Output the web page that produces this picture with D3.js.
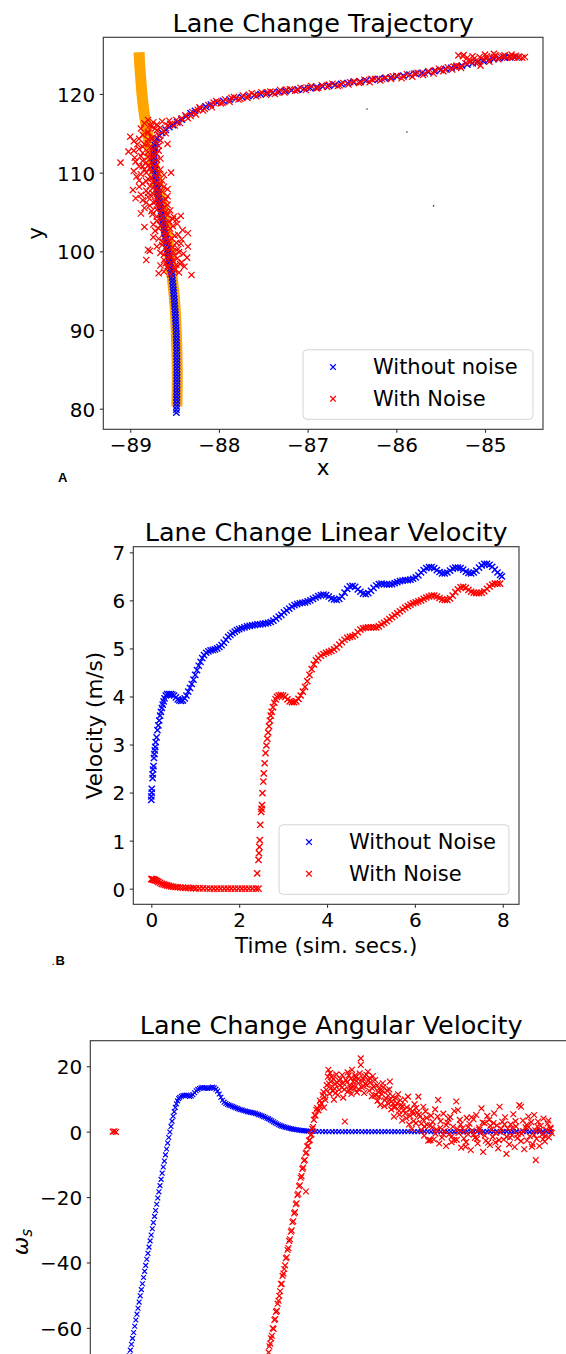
<!DOCTYPE html>
<html>
<head>
<meta charset="utf-8">
<script src="https://cdn.jsdelivr.net/npm/d3@7"></script>
<style>
  body { margin: 0; background: #fff; }
  svg text { font-family: "DejaVu Sans", sans-serif; fill: #000; }
</style>
</head>
<body>
<svg id="fig" width="566" height="1354"></svg>
<script>
// ---- tick values
var trajXTicks = [-89, -88, -87, -86, -85];
var trajYTicks = [80, 90, 100, 110, 120];
var timeTicks = [0, 2, 4, 6, 8];
var velTicks = [0, 1, 2, 3, 4, 5, 6, 7];
var angTicks = [-60, -40, -20, 0, 20];

// ---- panel A: reference lane path (x, y)
var refPath = [[-88.90,125.3],[-88.895,124],[-88.882,122],[-88.868,120],[-88.848,118],[-88.822,116],
  [-88.792,114],[-88.758,112],[-88.72,110],[-88.682,108],[-88.646,106],[-88.612,104],[-88.582,102],
  [-88.56,100],[-88.54,98],[-88.52,96],[-88.502,94],[-88.49,92],[-88.482,90],[-88.476,88],
  [-88.472,86],[-88.47,84],[-88.472,82],[-88.475,80.3]];

// panel A: trajectory without noise (x, y)
var trajClean = [[-88.48,79.5],[-88.48,79.9],[-88.477,80.3],[-88.477,80.7],[-88.476,81.1],[-88.476,81.5],
  [-88.475,81.9],[-88.475,82.3],[-88.475,82.7],[-88.474,83.1],[-88.474,83.5],[-88.474,83.9],[-88.474,84.3],
  [-88.474,84.7],[-88.474,85.1],[-88.474,85.5],[-88.474,85.9],[-88.475,86.3],[-88.475,86.7],[-88.476,87.1],
  [-88.476,87.5],[-88.477,87.9],[-88.478,88.3],[-88.479,88.7],[-88.48,89.1],[-88.481,89.5],[-88.482,89.9],
  [-88.484,90.3],[-88.486,90.7],[-88.488,91.1],[-88.49,91.5],[-88.492,91.9],[-88.494,92.3],[-88.497,92.7],
  [-88.5,93.1],[-88.502,93.5],[-88.505,93.9],[-88.508,94.3],[-88.511,94.7],[-88.514,95.1],[-88.517,95.5],
  [-88.52,95.9],[-88.524,96.3],[-88.528,96.7],[-88.532,97.1],[-88.538,97.5],[-88.545,97.9],[-88.55,98.3],
  [-88.556,98.7],[-88.562,99.1],[-88.568,99.5],[-88.574,99.9],[-88.58,100.3],[-88.586,100.7],[-88.592,101.1],
  [-88.598,101.5],[-88.604,101.9],[-88.61,102.3],[-88.616,102.7],[-88.622,103.1],[-88.628,103.5],
  [-88.634,103.9],[-88.64,104.3],[-88.646,104.7],[-88.652,105.1],[-88.658,105.5],[-88.664,105.9],
  [-88.67,106.3],[-88.676,106.7],[-88.682,107.1],[-88.688,107.5],[-88.694,107.9],[-88.7,108.3],
  [-88.705,108.7],[-88.71,109.1],[-88.715,109.5],[-88.72,109.9],[-88.724,110.3],[-88.728,110.7],
  [-88.731,111.1],[-88.733,111.5],[-88.734,111.9],[-88.734,112.3],[-88.732,112.7],[-88.728,113.1],
  [-88.722,113.5],[-88.712,113.9],[-88.70,114.3],[-88.67,114.7],[-88.64,115.05],[-88.60,115.45],
  [-88.56,115.8],[-88.52,116.05],[-88.47,116.4],[-88.42,116.75],[-88.37,117.15],[-88.32,117.55],
  [-88.27,117.85],[-88.21,118.15],[-88.15,118.4],[-88.09,118.65],[-88.02,118.9],[-87.95,119.1],
  [-87.88,119.28],[-87.81,119.44],[-87.74,119.6],[-87.67,119.73],[-87.6,119.85],[-87.53,119.96],
  [-87.46,120.07],[-87.39,120.18],[-87.32,120.28],[-87.25,120.38],[-87.18,120.48],[-87.11,120.57],
  [-87.04,120.66],[-86.97,120.75],[-86.9,120.85],[-86.83,120.95],[-86.76,121.05],[-86.69,121.15],
  [-86.62,121.26],[-86.55,121.37],[-86.48,121.48],[-86.41,121.59],[-86.34,121.69],[-86.27,121.8],
  [-86.2,121.9],[-86.13,122.0],[-86.06,122.1],[-85.99,122.22],[-85.92,122.33],[-85.85,122.45],
  [-85.78,122.56],[-85.71,122.67],[-85.64,122.79],[-85.57,122.91],[-85.5,123.04],[-85.44,123.18],
  [-85.38,123.32],[-85.32,123.46],[-85.26,123.6],[-85.2,123.74],[-85.14,123.9],[-85.08,124.04],
  [-85.02,124.18],[-84.96,124.32],[-84.9,124.45],[-84.84,124.55],[-84.78,124.62],[-84.72,124.68],
  [-84.66,124.7]];

// panel A: trajectory with noise (x, y)
var trajNoisy = [[-88.68,97.2],[-88.62,97.4],[-88.55,97.1],[-88.5,97.6],[-88.45,97.3],[-88.39,98.06],
  [-88.31,97.0],[-88.58,97.9],[-88.48,98.3],[-88.6,98.5],[-88.52,98.8],[-88.42,98.6],[-88.82,98.9],
  [-88.66,98.2],[-88.36,99.2],[-88.56,99.3],[-88.62,99.6],[-88.5,99.5],[-88.45,99.9],[-88.58,100.1],
  [-88.8,100.2],[-88.78,100.05],[-88.35,100.6],[-88.52,100.5],[-88.64,100.8],[-88.48,101.1],[-88.57,101.3],
  [-88.68,101.6],[-88.42,101.5],[-88.6,101.9],[-88.5,102.0],[-88.35,102.3],[-88.41,102.7],[-88.62,102.4],
  [-88.72,102.6],[-88.84,103.1],[-88.55,102.9],[-88.66,103.3],[-88.6,103.6],[-88.47,103.5],[-88.7,103.9],
  [-88.52,104.1],[-88.43,104.5],[-88.51,104.4],[-88.64,104.3],[-88.88,104.8],[-88.75,104.7],[-88.6,105.0],
  [-88.7,105.3],[-88.62,105.6],[-88.78,105.8],[-88.66,106.0],[-88.86,106.5],[-88.72,106.3],[-88.6,106.6],
  [-88.8,106.9],[-88.94,106.75],[-88.68,107.1],[-88.75,107.4],[-88.64,107.6],[-88.97,107.8],[-88.82,107.7],
  [-88.7,108.0],[-88.58,107.9],[-88.78,108.3],[-88.66,108.5],[-88.86,108.6],[-88.74,108.9],[-88.93,109.5],
  [-88.8,109.2],[-88.7,109.4],[-88.88,109.8],[-88.62,109.7],[-88.76,110.1],[-88.54,110.0],[-88.84,110.4],
  [-88.72,110.6],[-88.9,110.8],[-88.8,110.9],[-89.11,111.27],[-88.76,111.2],[-88.86,111.5],[-88.7,111.6],
  [-88.95,111.9],[-88.8,112.0],[-89.02,112.67],[-88.74,112.3],[-88.86,112.5],[-88.68,112.8],[-88.9,113.0],
  [-88.78,113.2],[-88.58,113.65],[-88.84,113.6],[-88.72,113.8],[-88.96,114.0],[-88.8,114.2],[-89.0,114.57],
  [-88.74,114.5],[-88.86,114.8],[-88.6,115.0],[-88.8,115.2],[-88.7,115.4],[-88.88,115.6],[-88.76,115.9],
  [-88.84,116.27],[-88.8,116.7],[-88.66,115.7],[-88.58,116.0],
  [-88.5,97.8],[-88.58,98.1],[-88.44,98.4],[-88.54,98.6],[-88.62,98.9],[-88.47,99.1],[-88.55,99.4],
  [-88.66,99.8],[-88.4,99.7],[-88.52,100.0],[-88.6,100.4],[-88.46,100.3],[-88.7,100.6],[-88.56,100.9],
  [-88.43,101.0],[-88.63,101.2],[-88.53,101.6],[-88.74,101.8],[-88.58,102.2],[-88.46,102.1],[-88.68,102.9],
  [-88.52,103.2],[-88.6,103.0],[-88.74,103.4],[-88.56,103.8],[-88.66,104.0],[-88.48,104.0],[-88.58,104.6],
  [-88.7,104.4],[-88.66,104.9],[-88.55,105.2],[-88.76,105.1],[-88.64,105.4],[-88.84,105.5],[-88.7,105.8],
  [-88.58,105.9],[-88.74,106.2],[-88.64,106.4],[-88.82,106.2],[-88.7,106.7],[-88.58,107.0],[-88.76,107.0],
  [-88.88,107.2],[-88.68,107.5],[-88.8,107.4],[-88.62,108.2],[-88.74,108.1],[-88.9,108.2],[-88.7,108.7],
  [-88.82,108.9],[-88.64,109.0],[-88.76,109.3],[-88.9,109.0],[-88.68,109.9],[-88.82,110.0],[-88.96,110.2],
  [-88.66,110.4],[-88.78,110.6],[-88.86,110.8],[-88.7,111.0],[-88.82,111.3],[-88.94,111.4],[-88.66,111.8],
  [-88.76,111.9],[-88.88,112.1],[-88.7,112.4],[-88.8,112.6],[-88.96,112.8],[-88.74,113.0],[-88.86,113.3],
  [-88.68,113.4],[-88.8,113.7],[-88.92,113.6],[-88.66,114.1],[-88.76,114.4],[-88.9,114.3],[-88.68,114.8],
  [-88.8,115.0],[-88.72,115.6],[-88.62,115.3],[-88.78,116.0],[-88.7,116.1],[-88.64,116.5],[-88.56,116.6],
  [-88.74,116.4],
  [-88.55,116.2],[-88.48,116.7],[-88.44,116.3],
  [-88.38,117.3],[-88.35,116.9],[-88.3,117.7],[-88.26,117.4],[-88.22,118.3],[-88.18,117.9],[-88.12,118.6],
  [-88.08,118.3],[-88.03,119.1],[-87.98,118.8],[-87.93,119.3],[-87.88,119.0],[-87.83,119.6],[-87.78,119.3],
  [-87.73,119.8],[-87.68,119.5],[-87.63,120.1],[-87.58,119.7],[-87.52,120.2],[-87.47,119.9],[-87.42,120.3],
  [-87.37,120.0],[-87.31,120.5],[-87.26,120.2],[-87.2,120.6],[-87.14,120.4],[-87.08,120.8],[-87.02,120.5],
  [-86.96,121.0],[-86.9,120.7],[-86.84,121.1],[-86.78,120.9],[-86.72,121.3],[-86.66,121.0],[-86.6,121.4],
  [-86.54,121.2],[-86.48,121.6],[-86.42,121.4],[-86.36,121.8],[-86.3,121.5],[-86.24,121.9],[-86.18,121.7],
  [-86.12,122.1],[-86.06,121.9],[-86.0,122.3],[-85.94,122.0],[-85.88,122.5],[-85.82,122.2],[-85.76,122.7],
  [-85.7,122.4],[-85.64,122.9],[-85.58,122.6],[-85.52,123.2],[-85.47,122.9],[-85.42,123.4],[-85.37,123.1],
  [-85.32,123.6],[-85.27,123.3],[-85.22,123.9],[-85.24,124.96],[-85.2,124.6],[-85.16,124.2],[-85.12,124.5],
  [-85.1,123.9],[-85.06,124.7],[-85.02,124.4],[-84.98,124.8],[-84.95,124.1],[-84.92,124.6],[-84.88,124.9],
  [-84.85,124.4],[-84.82,124.7],[-84.78,124.9],[-84.75,124.6],[-84.72,124.8],[-84.68,124.7],[-84.65,124.85],
  [-84.62,124.6],[-84.58,124.6],[-84.55,124.7],[-85.05,123.6],[-85.25,124.8],[-84.9,125.1],[-85.0,125.0],
  [-84.7,125.0],
  [-88.5,116.0],[-88.42,116.9],[-88.32,117.2],[-88.24,118.0],[-88.16,118.1],[-88.06,118.9],[-87.96,118.9],
  [-87.86,119.5],[-87.76,119.4],[-87.66,119.9],[-87.56,119.9],[-87.45,120.2],[-87.34,120.2],[-87.24,120.55],
  [-87.12,120.5],[-87.0,120.8],[-86.88,120.8],[-86.76,121.2],[-86.64,121.1],[-86.52,121.5],[-86.4,121.5],
  [-86.28,121.9],[-86.16,121.9],[-86.04,122.25],[-85.92,122.2],[-85.8,122.6],[-85.68,122.6],[-85.56,123.0],
  [-85.45,123.1],[-85.35,123.5],[-85.28,123.5],[-85.18,124.1],[-85.08,124.2],[-84.98,124.5],[-84.9,124.7],
  [-84.8,124.8],[-84.7,124.6],[-84.62,124.75],[-85.14,124.8],[-85.3,124.9]];

// panel A: three stray dark specks
var specks = [[-86.33,118.09],[-85.88,115.17],[-85.58,105.77]];

// ---- panel B: linear velocity (time, m/s)
var velClean = [[0,1.85],[0,1.92],[0.01,2.0],[0.01,2.08],[0.03,2.3],[0.03,2.38],[0.04,2.48],[0.05,2.55],
  [0.06,2.72],[0.07,2.8],[0.08,2.88],[0.09,2.95],[0.1,3.05],[0.12,3.15],[0.14,3.3],[0.16,3.4],[0.18,3.5],
  [0.2,3.6],[0.22,3.68],[0.24,3.76],[0.26,3.83],[0.28,3.9],[0.3,3.96],[0.33,4.02],[0.36,4.05],[0.4,4.05],
  [0.44,4.05],[0.48,4.04],[0.52,4.02],[0.56,3.98],[0.6,3.94],[0.64,3.92],[0.68,3.91],[0.72,3.92],[0.76,3.96],
  [0.8,4.02],[0.84,4.1],[0.88,4.18],[0.92,4.26],[0.96,4.35],[1.0,4.45],[1.04,4.55],[1.08,4.64],[1.12,4.72],
  [1.16,4.8],[1.2,4.86],[1.25,4.91],[1.3,4.94],[1.35,4.96],[1.4,4.97],[1.45,4.98],[1.5,5.0],[1.55,5.03],
  [1.6,5.07],[1.65,5.12],[1.7,5.18],[1.75,5.24],[1.8,5.28],[1.85,5.32],[1.9,5.35],[1.95,5.38],[2.0,5.4],
  [2.06,5.42],[2.12,5.44],[2.18,5.46],[2.24,5.47],[2.3,5.48],[2.36,5.49],[2.42,5.5],[2.48,5.5],[2.54,5.51],
  [2.6,5.52],[2.66,5.53],[2.72,5.55],[2.78,5.58],[2.84,5.62],[2.9,5.66],[2.96,5.7],[3.02,5.75],[3.08,5.79],
  [3.14,5.83],[3.2,5.87],[3.26,5.9],[3.32,5.92],[3.38,5.94],[3.44,5.95],[3.5,5.96],[3.56,5.98],[3.62,6.0],
  [3.68,6.03],[3.74,6.06],[3.8,6.09],[3.86,6.11],[3.92,6.12],[3.98,6.11],[4.04,6.08],[4.1,6.04],[4.16,6.02],
  [4.22,6.01],[4.28,6.03],[4.34,6.08],[4.4,6.16],[4.46,6.24],[4.52,6.29],[4.58,6.3],[4.64,6.28],[4.7,6.23],
  [4.76,6.18],[4.82,6.14],[4.88,6.13],[4.94,6.15],[5.0,6.2],[5.06,6.26],[5.12,6.31],[5.18,6.34],[5.24,6.35],
  [5.3,6.34],[5.36,6.33],[5.42,6.33],[5.48,6.34],[5.54,6.36],[5.6,6.38],[5.66,6.4],[5.72,6.41],[5.78,6.42],
  [5.84,6.42],[5.9,6.43],[5.96,6.45],[6.02,6.48],[6.08,6.52],[6.14,6.58],[6.2,6.63],[6.26,6.67],[6.32,6.69],
  [6.38,6.69],[6.44,6.67],[6.5,6.63],[6.56,6.59],[6.62,6.56],[6.68,6.56],[6.74,6.58],[6.8,6.62],[6.86,6.66],
  [6.92,6.68],[6.98,6.68],[7.04,6.67],[7.1,6.64],[7.16,6.6],[7.22,6.57],[7.28,6.56],[7.34,6.58],[7.4,6.62],
  [7.46,6.68],[7.52,6.73],[7.58,6.76],[7.64,6.76],[7.7,6.74],[7.76,6.7],[7.82,6.64],[7.88,6.58],[7.94,6.53],
  [7.98,6.5]];

var velNoisy = [[0,0.2],[0.02,0.2],[0.04,0.19],[0.06,0.19],[0.08,0.18],[0.1,0.17],[0.13,0.16],[0.16,0.14],
  [0.2,0.12],[0.24,0.1],[0.28,0.09],[0.32,0.08],[0.36,0.07],[0.4,0.06],[0.45,0.05],[0.5,0.04],[0.55,0.035],
  [0.6,0.03],[0.66,0.025],[0.72,0.02],[0.78,0.018],[0.84,0.015],[0.9,0.012],[0.96,0.01],[1.02,0.008],
  [1.1,0.006],[1.18,0.005],[1.26,0.004],[1.34,0.003],[1.42,0.003],[1.5,0.002],[1.58,0.002],[1.66,0.001],
  [1.74,0.001],[1.82,0],[1.9,0],[1.98,0],[2.06,0],[2.14,0],[2.22,0],[2.3,0],[2.38,0],[2.44,0],
  [2.41,0.32],[2.44,0.6],[2.45,0.74],[2.46,0.87],[2.47,1.01],[2.48,1.33],[2.5,1.6],[2.51,1.66],[2.52,1.74],
  [2.53,1.99],[2.55,2.23],[2.56,2.4],[2.58,2.61],[2.6,2.82],[2.62,2.98],[2.64,3.12],[2.66,3.25],[2.68,3.38],
  [2.7,3.5],[2.72,3.6],[2.74,3.68],[2.77,3.78],[2.8,3.87],[2.83,3.94],[2.86,3.99],[2.9,4.02],[2.95,4.03],
  [3.0,4.02],[3.05,3.99],[3.1,3.94],[3.15,3.9],[3.2,3.88],[3.25,3.88],[3.3,3.9],[3.35,3.95],[3.4,4.02],
  [3.45,4.1],[3.5,4.2],[3.55,4.32],[3.6,4.45],[3.65,4.57],[3.7,4.67],[3.75,4.75],[3.8,4.8],[3.86,4.85],
  [3.92,4.88],[3.98,4.91],[4.04,4.93],[4.1,4.95],[4.16,4.98],[4.22,5.02],[4.28,5.08],[4.34,5.13],[4.4,5.18],
  [4.46,5.22],[4.52,5.24],[4.58,5.25],[4.64,5.28],[4.7,5.34],[4.76,5.39],[4.82,5.42],[4.88,5.43],[4.94,5.44],
  [5.0,5.44],[5.06,5.44],[5.12,5.44],[5.18,5.46],[5.24,5.5],[5.3,5.53],[5.36,5.57],[5.42,5.61],[5.48,5.65],
  [5.54,5.69],[5.6,5.73],[5.66,5.77],[5.72,5.81],[5.78,5.85],[5.84,5.88],[5.9,5.91],[5.96,5.94],[6.02,5.96],
  [6.08,5.98],[6.14,6.0],[6.2,6.03],[6.26,6.06],[6.32,6.08],[6.38,6.1],[6.44,6.1],[6.5,6.08],[6.56,6.05],
  [6.62,6.02],[6.68,6.01],[6.74,6.01],[6.8,6.04],[6.86,6.1],[6.92,6.17],[6.98,6.23],[7.04,6.27],[7.1,6.28],
  [7.16,6.26],[7.22,6.22],[7.28,6.18],[7.34,6.16],[7.4,6.15],[7.46,6.15],[7.52,6.16],[7.58,6.19],[7.64,6.24],
  [7.7,6.29],[7.76,6.33],[7.82,6.35],[7.88,6.35],[7.94,6.35]];

// ---- panel C: angular velocity (time, omega)
var angClean = [[0.30,-68.5],[0.32,-66.8],[0.34,-65.0],[0.36,-63.2],[0.38,-61.4],[0.40,-59.5],[0.42,-57.6],
  [0.44,-55.8],[0.46,-54.0],[0.48,-52.1],[0.50,-50.2],[0.52,-48.3],[0.54,-46.5],[0.56,-44.6],[0.58,-42.7],
  [0.60,-40.9],[0.62,-39.0],[0.64,-37.2],[0.66,-35.3],[0.68,-33.4],[0.70,-31.6],[0.72,-29.7],[0.74,-27.8],
  [0.76,-25.9],[0.78,-24.1],[0.80,-22.2],[0.82,-20.3],[0.84,-18.4],[0.86,-16.5],[0.88,-14.6],[0.90,-12.7],
  [0.92,-10.8],[0.94,-9.0],[0.96,-7.1],[0.98,-5.3],[1.00,-3.5],[1.02,-1.8],[1.04,-0.1],[1.06,1.6],[1.08,3.2],
  [1.10,4.7],[1.12,6.1],[1.14,7.4],[1.16,8.5],[1.18,9.4],[1.20,10.1],[1.22,10.5],[1.25,10.8],[1.28,11.0],
  [1.31,11.1],[1.34,11.2],[1.37,11.0],[1.40,10.8],[1.43,10.9],[1.46,11.3],[1.49,11.9],[1.52,12.5],[1.55,12.9],
  [1.58,13.2],[1.61,13.4],[1.64,13.5],[1.67,13.4],[1.70,13.3],[1.73,13.2],[1.76,13.3],[1.79,13.5],[1.82,13.6],
  [1.85,13.4],[1.88,13.0],[1.91,12.4],[1.94,11.5],[1.97,10.5],[2.00,9.6],[2.03,9.0],[2.06,8.6],[2.09,8.3],
  [2.12,8.1],[2.15,7.9],[2.18,7.7],[2.21,7.5],[2.24,7.3],[2.27,7.1],[2.30,6.9],[2.33,6.7],[2.36,6.6],
  [2.39,6.4],[2.42,6.3],[2.45,6.1],[2.48,6.0],[2.51,5.9],[2.54,5.8],[2.57,5.7],[2.60,5.6],[2.63,5.4],
  [2.66,5.2],[2.69,5.0],[2.72,4.8],[2.75,4.6],[2.78,4.4],[2.81,4.1],[2.84,3.9],[2.87,3.6],[2.90,3.3],
  [2.93,3.0],[2.96,2.7],[2.99,2.4],[3.02,2.1],[3.05,1.9],[3.08,1.7],[3.11,1.55],[3.14,1.4],[3.17,1.25],
  [3.20,1.1],[3.23,0.95],[3.26,0.85],[3.29,0.75],[3.32,0.65],[3.35,0.58],[3.38,0.5],[3.41,0.42],[3.44,0.35],
  [3.47,0.3],[3.50,0.25],[3.53,0.2],[3.56,0.15],[3.60,0.12],[3.65,0.1],[3.70,0.05],[3.76,0.03],[3.82,0.02],
  [3.88,0.0],[3.94,-0.02],[4.0,0.0],[4.06,0.02],[4.12,0.0],[4.18,-0.03],[4.24,0.0],[4.3,0.02],[4.36,-0.02],
  [4.42,0.0],[4.48,0.03],[4.54,-0.02],[4.6,0.0],[4.66,0.02],[4.72,-0.03],[4.78,0.0],[4.84,0.02],[4.9,-0.02],
  [4.96,0.0],[5.02,0.03],[5.08,-0.02],[5.14,0.0],[5.2,0.02],[5.26,-0.03],[5.32,0.0],[5.38,0.03],[5.44,-0.02],
  [5.5,0.0],[5.56,0.02],[5.62,-0.04],[5.68,0.0],[5.74,0.04],[5.8,-0.03],[5.86,0.0],[5.92,0.03],[5.98,-0.04],
  [6.04,0.0],[6.1,0.05],[6.16,-0.04],[6.22,0.0],[6.28,0.05],[6.34,-0.05],[6.4,0.0],[6.46,0.04],[6.52,-0.05],
  [6.58,0.0],[6.64,0.05],[6.7,-0.06],[6.76,0.0],[6.82,0.06],[6.88,-0.05],[6.94,0.0],[7.0,0.06],[7.06,-0.06],
  [7.12,0.0],[7.18,0.06],[7.24,-0.07],[7.3,0.0],[7.36,0.07],[7.42,-0.06],[7.48,0.0],[7.54,0.07],[7.6,-0.07],
  [7.66,0.0],[7.72,0.07],[7.78,-0.07],[7.84,0.0],[7.9,0.06],[7.96,-0.05],[7.99,0.0]];

var angNoisy = [[0,0],[0.03,0.1],[0.06,-0.1],
  [2.84,-67.5],[2.855,-65.6],[2.87,-64.8],[2.885,-63.2],[2.9,-62.4],[2.915,-60.1],[2.93,-60.3],[2.945,-57.6],
  [2.96,-57.3],[2.975,-55.1],[2.99,-54.8],[3.005,-52.6],[3.02,-51.7],[3.035,-50.2],[3.05,-48.8],[3.065,-46.6],
  [3.08,-46.5],[3.095,-44.1],[3.11,-43.4],[3.125,-42.0],[3.14,-40.9],[3.155,-38.7],[3.17,-38.4],[3.185,-36.2],
  [3.2,-35.6],[3.215,-33.4],[3.23,-32.9],[3.245,-30.6],[3.26,-30.2],[3.275,-27.7],[3.29,-27.4],[3.305,-25.0],
  [3.32,-24.6],[3.335,-22.2],[3.35,-21.9],[3.365,-19.4],[3.38,-19.0],[3.395,-16.7],[3.41,-16.4],[3.425,-14.1],
  [3.44,-13.6],[3.455,-11.4],[3.47,-11.0],[3.485,-8.9],[3.5,-8.6],[3.515,-6.6],[3.52,-18.3],[3.53,-6.4],
  [3.545,-4.5],[3.56,-4.3],[3.575,-2.7],[3.59,-2.6],[3.605,-1.0],[3.62,-0.9],[3.635,0.9],[3.65,1.4],
  [3.665,3.6],[3.68,5.1],[3.695,4.9],[3.71,6.7],[3.725,7.2],
  [3.75,6.5],[3.775,9.5],[3.8,8.7],[3.825,11.2],[3.85,7.4],[3.875,9.7],[3.9,14.2],[3.92,16.8],[3.93,18.9],
  [3.95,11.6],[3.97,15.3],[3.99,16.8],[4.01,12.4],[4.03,9.8],[4.05,14.6],[4.075,17.5],[4.1,11.2],[4.125,12.8],
  [4.15,16.1],[4.175,13.5],[4.2,10.4],[4.23,3.1],[4.25,15.8],[4.275,12.2],[4.3,17.2],[4.325,14.1],[4.35,11.5],
  [4.36,18.9],[4.38,15.3],[4.4,13.2],[4.425,16.6],[4.45,12.0],[4.475,14.8],[4.5,17.8],[4.52,22.4],[4.52,20.4],
  [4.54,13.5],[4.56,16.2],[4.58,11.8],[4.6,14.6],[4.625,17.4],[4.65,18.3],[4.675,12.5],[4.7,15.1],[4.72,10.8],
  [4.75,13.8],[4.78,15.8],[4.8,11.2],[4.825,9.4],[4.85,13.1],[4.875,8.2],[4.9,11.6],[4.92,14.8],[4.95,7.8],
  [4.975,10.2],[5.0,12.6],[5.025,8.5],[5.05,15.3],[5.05,9.7],[5.075,6.8],[5.1,10.8],[5.125,4.6],[5.15,7.6],
  [5.18,8.7],[5.2,11.4],[5.225,5.2],[5.25,8.1],[5.275,3.4],[5.3,6.6],[5.325,9.8],[5.35,4.1],[5.38,10.7],
  [5.4,2.2],[5.425,6.9],[5.45,0.8],[5.475,5.4],[5.5,8.4],[5.525,2.6],[5.55,5.8],[5.57,10.7],[5.6,4.6],
  [5.625,0.5],[5.65,3.8],[5.675,-1.2],[5.7,6.2],[5.725,2.1],[5.75,-2.8],[5.77,-2.5],[5.79,-2.6],[5.8,4.9],
  [5.825,1.4],[5.85,-2.4],[5.875,6.8],[5.9,0.6],[5.93,9.7],[5.95,-3.6],[5.975,3.2],[6.0,-1.8],[6.025,5.5],
  [6.05,0.2],[6.075,-4.4],[6.1,2.8],[6.125,-0.9],[6.15,4.5],[6.175,-3.2],[6.2,1.5],[6.225,6.3],[6.26,9.2],
  [6.27,-2.5],[6.29,6.6],[6.3,-0.4],[6.325,3.6],[6.35,-4.9],[6.375,1.0],[6.4,-2.1],[6.43,-4.6],[6.45,4.2],
  [6.475,-0.8],[6.5,2.4],[6.525,-5.6],[6.55,0.3],[6.575,3.8],[6.6,-1.9],[6.625,5.1],[6.65,-3.6],[6.675,1.2],
  [6.7,-0.5],[6.72,7.1],[6.75,-6.2],[6.775,2.6],[6.8,-2.8],[6.825,4.8],[6.86,3.6],[6.875,-4.1],[6.9,0.7],
  [6.925,-1.6],[6.95,5.6],[6.975,-3.3],[7.0,1.9],[7.025,-5.1],[7.05,7.6],[7.075,-0.2],[7.1,3.0],[7.125,-2.4],
  [7.15,4.4],[7.175,-6.8],[7.2,0.9],[7.225,-3.9],[7.25,2.2],[7.275,-1.1],[7.3,5.3],[7.325,-4.7],[7.35,1.6],
  [7.375,-2.0],[7.41,8.1],[7.44,7.6],[7.45,-0.6],[7.475,3.4],[7.5,-5.4],[7.525,1.3],[7.55,-2.7],[7.575,4.6],
  [7.6,-1.4],[7.625,2.9],[7.65,-3.8],[7.68,5.1],[7.7,0.4],[7.71,-8.7],[7.725,-2.2],[7.75,3.1],[7.775,-4.4],
  [7.8,1.8],[7.825,-0.9],[7.85,4.0],[7.875,-3.0],[7.9,0.6],[7.925,2.5],[7.95,-1.8],[7.975,1.2],[8.0,-0.5],
  [3.86,10.6],[3.89,12.8],[3.94,14.7],[3.98,13.4],[4.02,16.0],[4.06,11.8],[4.09,15.0],[4.14,14.2],[4.18,17.3],
  [4.22,12.9],[4.27,15.1],[4.31,12.6],[4.34,16.3],[4.39,14.0],[4.44,15.5],[4.48,13.0],[4.55,15.4],[4.59,17.0],
  [4.63,14.2],[4.68,16.4],[4.73,13.2],[4.77,11.0],[4.82,14.2],[4.86,10.6],[4.91,12.5],[4.96,9.6],[5.02,11.0],
  [5.08,9.2],[5.13,7.4],[5.16,10.2],[5.22,6.4],[5.28,7.8],[5.33,5.6],[5.42,4.8],[5.48,3.2],[5.53,7.2],
  [5.62,2.4],[5.68,1.6],[5.72,4.2],[5.83,3.0],[5.88,-0.6],[5.97,1.2],[6.08,2.0],[6.18,-1.4],[6.28,0.8],
  [6.38,-0.2],[6.48,1.4],[6.58,-0.9],[6.68,0.6],[6.78,-1.2],[6.88,1.8],[6.98,-0.4],[7.08,0.9],[7.18,-1.6],
  [7.28,1.1],[7.38,-0.8],[7.48,0.2],[7.58,1.4],[7.68,-1.0],[7.78,0.5],[7.88,-1.3],[7.98,0.9],
  [3.78,7.8],[3.84,12.1],[3.96,17.9],[4.04,13.2],[4.12,15.6],[4.2,14.8],[4.28,18.1],[4.33,13.4],[4.42,17.2],
  [4.47,16.1],[4.57,13.9],[4.66,15.6],[4.74,17.0],[4.84,12.2],[4.93,13.6],[5.04,12.9],[5.11,8.6],[5.24,9.6],
  [5.36,7.4],[5.46,6.2],[5.58,5.2],[5.66,7.6],[5.78,1.9],[5.92,4.6],[6.02,-0.8],[6.12,3.9],[6.22,-2.6],
  [6.34,2.2],[6.44,-3.2],[6.54,4.4],[6.64,-2.2],[6.74,2.8],[6.84,-3.4],[6.94,2.6],[7.04,-2.6],[7.14,2.2],
  [7.24,-1.8],[7.34,3.2],[7.44,-2.9],[7.54,2.1],[7.64,-4.6],[7.74,1.6],[7.84,-2.4],[7.94,3.4]];

var BLUE = "#0000ff", RED = "#ff0000", ORANGE = "#ffa500";
var fmt = d3.format("d");

var svg = d3.select("#fig");
svg.append("rect").attr("width", 566).attr("height", 1354).attr("fill", "#fff");

// set up one axes box with scales, clip and axes
function makePanel(o) {
  var x = d3.scaleLinear().domain(o.xDom).range([o.left, o.right]);
  var y = d3.scaleLinear().domain(o.yDom).range([o.bottom, o.top]);
  var g = svg.append("g");

  svg.append("clipPath").attr("id", "clip" + o.id)
    .append("rect")
    .attr("x", o.left).attr("y", o.top)
    .attr("width", o.right - o.left).attr("height", o.bottom - o.top);

  var plot = g.append("g").attr("clip-path", "url(#clip" + o.id + ")");

  var axes = [];
  if (o.xTicks) {
    axes.push(g.append("g")
      .attr("transform", "translate(0," + o.bottom + ")")
      .call(d3.axisBottom(x).tickValues(o.xTicks).tickFormat(fmt)
        .tickSize(3.5).tickSizeOuter(0).tickPadding(5.3)));
  }
  var ya = g.append("g")
    .attr("transform", "translate(" + o.left + ",0)")
    .call(d3.axisLeft(y).tickValues(o.yTicks).tickFormat(fmt)
      .tickSize(3.5).tickSizeOuter(0).tickPadding(4.5));
  axes.push(ya);
  axes.forEach(function (a) {
    a.select(".domain").remove();
    a.selectAll(".tick line").attr("stroke", "#333").attr("stroke-width", 1.1);
    a.selectAll(".tick text").attr("font-size", 20).attr("font-family", "DejaVu Sans").attr("fill", "#000");
  });
  ya.selectAll(".tick text").attr("dy", "0.37em");

  // frame
  g.append("rect")
    .attr("x", o.left).attr("y", o.top)
    .attr("width", o.right - o.left).attr("height", o.bottom - o.top)
    .attr("fill", "none").attr("stroke", "#333").attr("stroke-width", 1.1);

  g.append("text")
    .attr("x", (o.left + o.right) / 2).attr("y", o.titleY)
    .attr("text-anchor", "middle").attr("font-size", 25.5)
    .text(o.title);

  if (o.xlab) {
    g.append("text")
      .attr("x", (o.left + o.right) / 2).attr("y", o.xlabY)
      .attr("text-anchor", "middle").attr("font-size", 21.5)
      .text(o.xlab);
  }
  return { x: x, y: y, g: g, plot: plot, o: o };
}

// scatter of 'x' markers
function crosses(p, pts, h, color, sw) {
  var d = "M" + (-h) + "," + (-h) + "L" + h + "," + h + "M" + (-h) + "," + h + "L" + h + "," + (-h);
  p.plot.append("g").selectAll("path")
    .data(pts)
    .join("path")
    .attr("transform", function (v) { return "translate(" + p.x(v[0]) + "," + p.y(v[1]) + ")"; })
    .attr("d", d)
    .attr("fill", "none")
    .attr("stroke", color)
    .attr("stroke-width", sw);
}

function legend(p, labels) {
  var o = p.o;
  var w = 230, h = 69.5;
  var lx = o.right - 10 - w, ly = o.bottom - 10 - h;
  var lg = p.g.append("g");
  lg.append("rect")
    .attr("x", lx).attr("y", ly).attr("width", w).attr("height", h)
    .attr("rx", 4).attr("fill", "#fff").attr("fill-opacity", 0.8)
    .attr("stroke", "#d5d5d5").attr("stroke-width", 1);
  var items = [{ t: labels[0], c: BLUE }, { t: labels[1], c: RED }];
  items.forEach(function (it, i) {
    var cy = ly + 17.3 + i * 31.7;
    var hs = 2.8;
    lg.append("path")
      .attr("d", "M" + (lx + 30 - hs) + "," + (cy - hs) + "l" + 2 * hs + "," + 2 * hs +
        "M" + (lx + 30 - hs) + "," + (cy + hs) + "l" + 2 * hs + "," + (-2 * hs))
      .attr("stroke", it.c).attr("stroke-width", 1.3).attr("fill", "none");
    lg.append("text")
      .attr("x", lx + 70).attr("y", cy + 7.3)
      .attr("font-size", 21)
      .text(it.t);
  });
}

// ---------- Panel A
var pA = makePanel({
  id: "A", left: 103.3, right: 543, top: 37.3, bottom: 429.3,
  xDom: [-89.304, -84.346], yDom: [77.38, 127.2],
  xTicks: trajXTicks, yTicks: trajYTicks,
  title: "Lane Change Trajectory", titleY: 32.3,
  xlab: "x", xlabY: 475
});
pA.g.append("text")
  .attr("transform", "translate(43," + (37.3 + 429.3) / 2 + ") rotate(-90)")
  .attr("text-anchor", "middle").attr("font-size", 21.5).text("y");

pA.plot.append("path")
  .datum(refPath)
  .attr("d", d3.line().x(function (d) { return pA.x(d[0]); }).y(function (d) { return pA.y(d[1]); })
    .curve(d3.curveCatmullRom))
  .attr("fill", "none").attr("stroke", ORANGE).attr("stroke-width", 11).attr("stroke-linecap", "butt");
crosses(pA, trajClean, 3.2, BLUE, 1.4);
crosses(pA, trajNoisy, 3.1, RED, 1.2);
pA.plot.append("g").selectAll("circle").data(specks).join("circle")
  .attr("cx", function (d) { return pA.x(d[0]); }).attr("cy", function (d) { return pA.y(d[1]); })
  .attr("r", 0.8).attr("fill", "#333");
legend(pA, ["Without noise", "With Noise"]);

svg.append("text").attr("x", 58).attr("y", 482)
  .attr("font-weight", "bold").attr("font-size", 13)
  .style("font-family", "Liberation Sans, sans-serif").text("A");

// ---------- Panel B
var pB = makePanel({
  id: "B", left: 133.3, right: 519, top: 546.7, bottom: 904.3,
  xDom: [-0.41, 8.37], yDom: [-0.325, 7.117],
  xTicks: timeTicks, yTicks: velTicks,
  title: "Lane Change Linear Velocity", titleY: 540.7,
  xlab: "Time (sim. secs.)", xlabY: 952.7
});
pB.g.append("text")
  .attr("transform", "translate(101.5," + (546.7 + 904.3) / 2 + ") rotate(-90)")
  .attr("text-anchor", "middle").attr("font-size", 21.5).text("Velocity (m/s)");
crosses(pB, velClean, 3.1, BLUE, 1.4);
crosses(pB, velNoisy, 3.1, RED, 1.4);
legend(pB, ["Without Noise", "With Noise"]);

svg.append("text").attr("x", 51.5).attr("y", 965).attr("font-size", 10).attr("fill", "#9ab").text(".");
svg.append("text").attr("x", 55.5).attr("y", 965)
  .attr("font-weight", "bold").attr("font-size", 13)
  .style("font-family", "Liberation Sans, sans-serif").text("B");

// ---------- Panel C (x axis lies below the visible area)
var pC = makePanel({
  id: "C", left: 90.3, right: 572, top: 1040.7, bottom: 1445,
  xDom: [-0.41, 8.37], yDom: [-95.8, 27.8],
  xTicks: null, yTicks: angTicks,
  title: "Lane Change Angular Velocity", titleY: 1034
});
var wl = pC.g.append("text")
  .attr("transform", "translate(27.5,1242) rotate(-90)")
  .attr("text-anchor", "middle").attr("font-size", 22).attr("font-style", "italic");
wl.append("tspan").text("ω");
wl.append("tspan").attr("font-size", 15).attr("dy", 4).text("s");
crosses(pC, angClean, 2.4, BLUE, 1.2);
crosses(pC, angNoisy, 2.9, RED, 1.2);
</script>
</body>
</html>
